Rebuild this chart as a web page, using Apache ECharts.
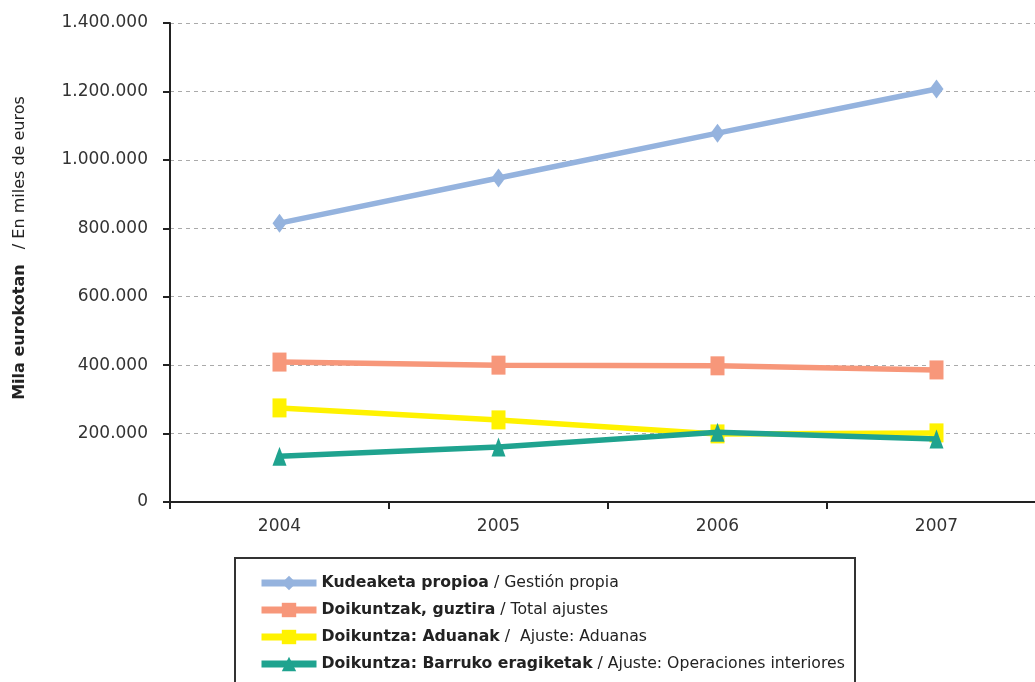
<!DOCTYPE html>
<html><head><meta charset="utf-8">
<script src="https://cdn.jsdelivr.net/npm/echarts@6/dist/echarts.min.js"></script>
<style>html,body{margin:0;padding:0;background:#fff}#c{width:1035px;height:682px}</style>
</head><body><div id="c"></div>
<script>
var years = ['2004', '2005', '2006', '2007'];
var kudeaketa = [815000, 947000, 1078000, 1207000];
var doikuntzak = [409000, 400000, 398000, 386000];
var aduanak = [275000, 240000, 199000, 202000];
var barruko = [134000, 161000, 204000, 184000];
var seriesNamesBold = ['Kudeaketa propioa', 'Doikuntzak, guztira', 'Doikuntza: Aduanak', 'Doikuntza: Barruko eragiketak'];
var seriesNamesRest = [' / Gestión propia', ' / Total ajustes', ' /  Ajuste: Aduanas', ' / Ajuste: Operaciones interiores'];
var axisTitleBold = 'Mila eurokotan';
var axisTitleRest = '   / En miles de euros';

var font = 'DejaVu Sans';
var chart = echarts.init(document.getElementById('c'));
function fmt(v){ return String(v).replace(/\B(?=(\d{3})+(?!\d))/g, '.'); }
function mk(i, data, color, symbol, size){
  return {
    name: seriesNamesBold[i], type: 'line', data: data,
    symbol: symbol, symbolSize: size,
    lineStyle: {color: color, width: 5.5},
    itemStyle: {color: color},
    z: 10 + i
  };
}
chart.setOption({
  animation: false,
  grid: {left: 170, width: 876, top: 23, height: 479, containLabel: false, outerBoundsMode: 'none'},
  xAxis: {
    type: 'category', data: years, boundaryGap: true,
    axisLine: {lineStyle: {color: '#222', width: 2}},
    axisTick: {show: true, length: 7, lineStyle: {color: '#222', width: 2}},
    axisLabel: {color: '#333', fontSize: 17, fontFamily: font, margin: 16}
  },
  yAxis: {
    type: 'value', min: 0, max: 1400000, interval: 200000,
    axisLine: {show: true, lineStyle: {color: '#222', width: 2}},
    axisTick: {show: true, length: 7, lineStyle: {color: '#222', width: 2}},
    axisLabel: {color: '#333', fontSize: 17, fontFamily: font, margin: 22, formatter: fmt},
    splitLine: {lineStyle: {color: '#aaa', type: [4, 4], width: 1}}
  },
  legend: {
    orient: 'vertical', left: 258, top: 574, itemGap: 9, padding: 0,
    itemWidth: 55, itemHeight: 18,
    lineStyle: {width: 7},
    textStyle: {fontFamily: font, fontSize: 15.7, lineHeight: 18, color: '#222', rich: {b: {fontWeight: 'bold', fontFamily: font, fontSize: 15.7, lineHeight: 18, color: '#222'}}},
    formatter: function(name){ var i = seriesNamesBold.indexOf(name); return '{b|' + name + '}' + seriesNamesRest[i]; }
  },
  graphic: [
    {type: 'rect', shape: {x: 235, y: 558, width: 620, height: 140}, style: {fill: 'none', stroke: '#333', lineWidth: 2}, silent: true},
    {type: 'text', x: 20, y: 248, rotation: Math.PI / 2, silent: true,
     style: {text: '{b|' + axisTitleBold + '}' + axisTitleRest, align: 'center', verticalAlign: 'middle',
             fill: '#222', fontSize: 16, fontFamily: font,
             rich: {b: {fontWeight: 'bold', fontSize: 16, fontFamily: font, fill: '#222'}}}}
  ],
  series: [
    mk(0, kudeaketa, '#95B3DE', 'diamond', [14, 19]),
    mk(1, doikuntzak, '#F7977A', 'rect', [14, 19]),
    mk(2, aduanak, '#FFF200', 'rect', [14, 19]),
    mk(3, barruko, '#1FA38F', 'triangle', [14, 19])
  ]
});
</script></body></html>
